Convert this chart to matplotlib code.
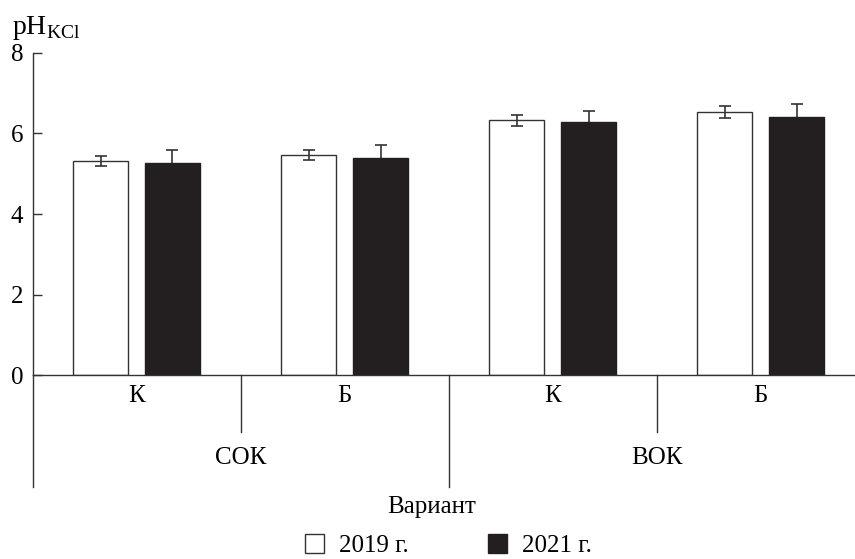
import numpy as np
import matplotlib
matplotlib.use("Agg")
import matplotlib.pyplot as plt
from matplotlib.patches import Patch

plt.rcParams['font.family'] = ['Liberation Serif', 'DejaVu Serif']
plt.rcParams['mathtext.fontset'] = 'custom'
plt.rcParams['mathtext.rm'] = 'Liberation Serif'

# ---- data ----
sub_labels = ['К', 'Б', 'К', 'Б']
group_labels = ['СОК', 'ВОК']
years = ['2019 г.', '2021 г.']
ph_2019 = [5.32, 5.46, 6.33, 6.53]
err_2019 = [0.13, 0.13, 0.14, 0.15]
ph_2021 = [5.28, 5.40, 6.28, 6.40]
err_2021 = [0.30, 0.31, 0.29, 0.33]
y_ticks = [0, 2, 4, 6, 8]

FS = 18
black = '#231f20'
edge = '#333333'

fig = plt.figure(figsize=(8.55, 5.59), dpi=100)
ax = fig.add_axes([0.0386, 0.3286, 0.9614, 0.5768])

x = np.arange(len(sub_labels))
w = 0.265
off = 0.173
ax.bar(x - off, ph_2019, w, color='white', edgecolor=edge, linewidth=1.0, zorder=2)
ax.bar(x + off, ph_2021, w, color=black, edgecolor=black, linewidth=1.0, zorder=2)
ax.errorbar(x - off, ph_2019, yerr=err_2019, fmt='none', ecolor=edge,
            elinewidth=1.2, capsize=4, capthick=1.2, zorder=3)
ax.errorbar(x + off, ph_2021, yerr=err_2021, fmt='none', ecolor=edge,
            elinewidth=1.2, capsize=4, capthick=1.2, zorder=1)

xl = (-0.4976, 3.454)
ax.set_xlim(*xl)
ax.set_ylim(0, 8)
ax.set_yticks(y_ticks)
ax.tick_params(axis='y', direction='in', length=6.5, width=1.0, pad=7,
               labelsize=FS, color=edge)
ax.set_xticks([])
for s in ['top', 'right']:
    ax.spines[s].set_visible(False)
for s in ['left', 'bottom']:
    ax.spines[s].set_color(edge)
    ax.spines[s].set_linewidth(1.0)

# hierarchical category axis below
ax.plot([xl[0], xl[0]], [0, -2.77], color=edge, lw=1.0, clip_on=False)
for xd in [0.5, 2.5]:
    ax.plot([xd, xd], [0, -1.41], color=edge, lw=1.0, clip_on=False)
ax.plot([1.5, 1.5], [0, -2.77], color=edge, lw=1.0, clip_on=False)
for xi, lab in zip(x, sub_labels):
    ax.text(xi, -0.51, lab, ha='center', va='center', fontsize=FS, clip_on=False)
for gi, lab in enumerate(group_labels):
    ax.text(0.5 + 2 * gi, -2.05, lab, ha='center', va='center', fontsize=FS, clip_on=False)
ax.text(1.42, -3.27, 'Вариант', ha='center', va='center', fontsize=FS, clip_on=False)

fig.text(0.014, 1 - 14 / 559, r'pH$_\mathregular{KCl}$', ha='left', va='top', fontsize=20)

handles = [Patch(facecolor='white', edgecolor=edge, linewidth=1.0),
           Patch(facecolor=black, edgecolor=black, linewidth=1.0)]
fig.legend(handles, years, loc='center', bbox_to_anchor=(0.5246, 0.024), ncol=2,
           frameon=False, fontsize=FS, handlelength=0.76, handleheight=0.76,
           handletextpad=0.6, columnspacing=3.2, borderpad=0)

fig.savefig('out.png', dpi=100)
